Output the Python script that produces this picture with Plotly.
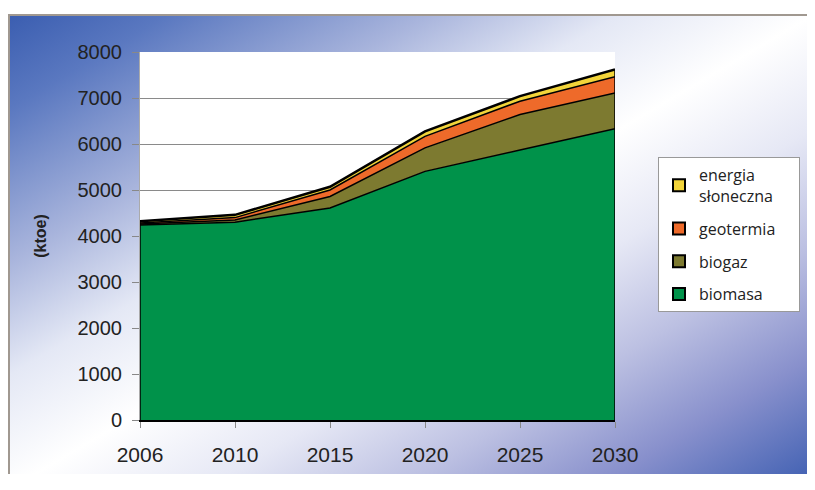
import base64
import plotly.graph_objects as go

years = ["2006", "2010", "2015", "2020", "2025", "2030"]
biomasa = [4240, 4300, 4610, 5405, 5870, 6330]
biogaz = [20, 50, 250, 510, 770, 780]
geotermia = [20, 50, 140, 250, 290, 350]
energia_sloneczna = [40, 60, 70, 110, 110, 160]

series = [
    ("biomasa", biomasa, "#00924a"),
    ("biogaz", biogaz, "#7d7a30"),
    ("geotermia", geotermia, "#ee6a2a"),
    ("energia<br>słoneczna\u00a0\u00a0\u00a0\u00a0\u00a0", energia_sloneczna, "#f2d43a"),
]

totals = [sum(v) for v in zip(biomasa, biogaz, geotermia, energia_sloneczna)]

fig = go.Figure()

for i, (name, vals, col) in enumerate(series):
    fig.add_trace(go.Scatter(
        x=years, y=vals, name=name, stackgroup="one", mode="lines",
        line=dict(color="black", width=2.5 if i == len(series) - 1 else 1.5),
        fillcolor=col, showlegend=False, hoverinfo="skip",
    ))

# vertical edges of the stacked area (derived from data)
for idx in (0, len(years) - 1):
    fig.add_trace(go.Scatter(
        x=[years[idx], years[idx]], y=[0, totals[idx]], mode="lines",
        line=dict(color="black", width=1.5), showlegend=False, hoverinfo="skip",
    ))

# legend entries (square swatches)
for name, vals, col in reversed(series):
    fig.add_trace(go.Scatter(
        x=[None], y=[None], mode="markers", name=name, legendgroup=name,
        marker=dict(symbol="square", size=12, color=col, line=dict(color="black", width=2)),
    ))

svg = """<svg xmlns='http://www.w3.org/2000/svg' width='807' height='476' viewBox='0 0 807 476' preserveAspectRatio='none'>
<defs><linearGradient id='g' x1='0' y1='0' x2='1' y2='1'>
<stop offset='0' stop-color='#3a5db0'/>
<stop offset='0.1' stop-color='#5a78c0'/>
<stop offset='0.26' stop-color='#a8b4dc'/>
<stop offset='0.38' stop-color='#e4e8f5'/>
<stop offset='0.5' stop-color='#ffffff'/>
<stop offset='0.62' stop-color='#e6e8f5'/>
<stop offset='0.74' stop-color='#bcc0e2'/>
<stop offset='0.86' stop-color='#8890cc'/>
<stop offset='1' stop-color='#3a5cb0'/>
</linearGradient></defs>
<rect width='807' height='476' fill='url(#g)'/>
<path d='M1,476 V1 H807' stroke='#a09890' stroke-width='2' fill='none'/>
</svg>"""
src = "data:image/svg+xml;base64," + base64.b64encode(svg.encode()).decode()

O = 8  # page body offset
W, H = 815 - O, 490 - 3 * O
L, R, T, B = 140 - O, 615 - O, 52 - O, 420 - O
pw, ph = R - L, B - T
fig.add_layout_image(dict(
    source=src, xref="paper", yref="paper",
    x=(8 - O - L) / pw, y=(B - (14 - O)) / ph, sizex=(815 - 8) / pw, sizey=(490 - 14) / ph,
    xanchor="left", yanchor="top", sizing="stretch", layer="below",
))
# white plotting area on top of the gradient
fig.add_shape(type="rect", xref="paper", yref="paper", x0=0, x1=1, y0=0, y1=1,
              fillcolor="white", line=dict(width=0), layer="below")

tickfont = dict(family="Liberation Sans", size=20, color="#222")
fig.update_layout(
    width=W, height=H, autosize=False,
    margin=dict(l=L, r=W - R, t=T, b=H - B, autoexpand=False),
    paper_bgcolor="white", plot_bgcolor="white",
    showlegend=True,
    legend=dict(
        x=(658 - O - L) / pw, y=(B - (157 - O)) / ph, xanchor="left", yanchor="top",
        bgcolor="white", bordercolor="#999", borderwidth=1,
        font=dict(family="Open Sans", size=16, color="#222"),
        traceorder="grouped", tracegroupgap=9, itemsizing="constant",
        valign="middle",
    ),
    xaxis=dict(
        type="category", range=[0, len(years) - 1], showgrid=False,
        showline=True, linecolor="black", linewidth=1.5,
        ticks="outside", ticklen=6, tickcolor="#888",
        tickfont=dict(family="Liberation Sans", size=21, color="#222"),
        ticklabelstandoff=9, zeroline=False,
    ),
    yaxis=dict(
        range=[0, 8000], dtick=1000, showgrid=True, gridcolor="#8a8a8a", gridwidth=1,
        showline=True, linecolor="#aaa", linewidth=1,
        ticks="outside", ticklen=7, tickcolor="#888", tickfont=tickfont,
        ticklabelstandoff=6, zeroline=False,
        title=dict(text="<b>(ktoe)</b>", font=dict(family="Liberation Sans", size=16, color="#222"), standoff=26),
    ),
)

fig.write_html("out.html")
